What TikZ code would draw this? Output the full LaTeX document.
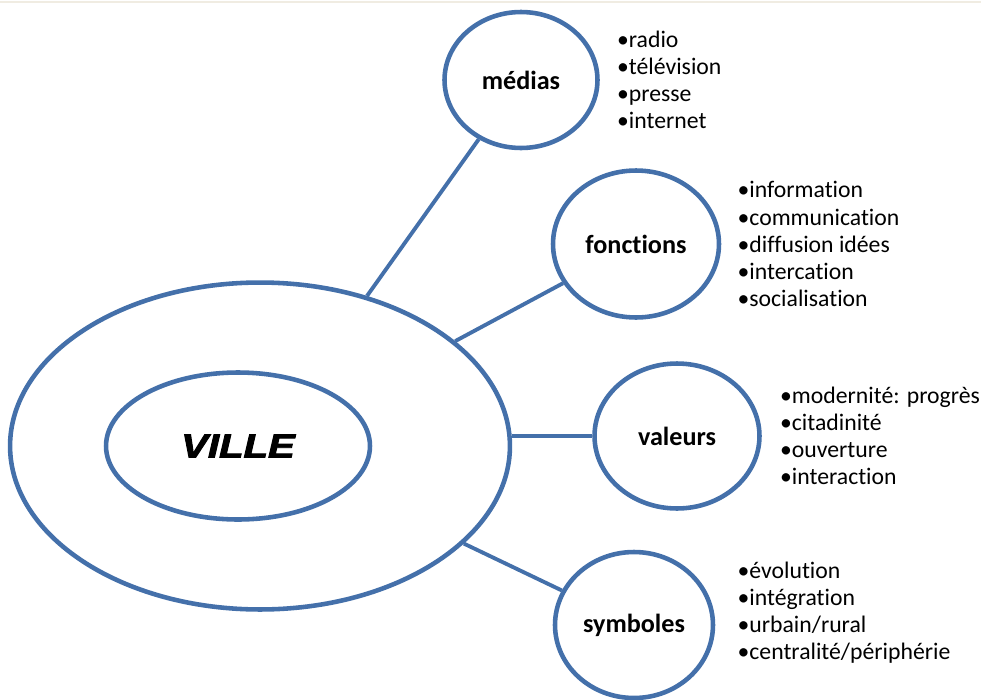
\documentclass[tikz,border=0pt]{standalone}
\usepackage{fontspec}
\setmainfont{Carlito}[Ligatures={NoCommon}]
\newfontfamily\villefont{Liberation Sans}[BoldItalicFeatures={FakeBold=2.5}]
\usetikzlibrary{shapes.geometric,positioning}
\definecolor{ringblue}{RGB}{68,112,170}
\definecolor{edgebeige}{RGB}{240,236,226}

\begin{document}
\begin{tikzpicture}[x=0.02cm,y=-0.02cm,
                    every node/.style={inner sep=0pt},
                    ring/.style={ellipse,draw=ringblue,line width=2.6pt,fill=white},
                    topic/.style={ring,font=\fontsize{14.9}{17}\selectfont\bfseries},
                    itemlist/.style={align=left,font=\fontsize{13.5}{15.4}\selectfont},
                    spoke/.style={draw=ringblue,line width=2.2pt}
]
\useasboundingbox (0,0) rectangle (981,700);
\draw [edgebeige,line width=1.5pt] (0,2) -- (981,2);
%
\node [ring,minimum width=10cm,minimum height=6.54cm] at (260,446) (city) {};
\node [ring,minimum width=5.28cm,minimum height=2.94cm,
       font=\villefont\fontsize{19}{22}\selectfont\bfseries\itshape] at (238,446) (ville) {\scalebox{1.2}[1]{VILLE}};
%
\node [topic,minimum width=3.06cm,minimum height=2.72cm] at (521,80) (medias) {médias};
\node [topic,minimum width=3.32cm,minimum height=2.94cm] at (636,244) (fonctions) {fonctions};
\node [topic,minimum width=3.3cm,minimum height=2.9cm] at (677,436) (valeurs) {valeurs};
\node [topic,minimum width=3.16cm,minimum height=2.92cm] at (634,625) (symboles) {symboles};
%
\draw [spoke] (city) -- (medias);
\draw [spoke] (city) -- (fonctions);
\draw [spoke] (valeurs.west) -- (valeurs.west -| city.east);
\draw [spoke] (city) -- (symboles);
%
\node [itemlist,right=0.34cm of medias.east] (mediaslist) {•radio\\•télévision\\•presse\\•internet};
\node [itemlist,right=0.32cm of fonctions.east] (fonctionslist) {•information\\•communication\\•diffusion idées\\•intercation\\•socialisation};
\node [itemlist,right=0.36cm of valeurs.east] (valeurslist) {•modernité: progrès\\•citadinité\\•ouverture\\•interaction};
\node [itemlist,right=0.44cm of symboles.east,yshift=0.24cm] (symboleslist) {•évolution\\•intégration\\•urbain/rural\\•centralité/périphérie};
\end{tikzpicture}
\end{document}
